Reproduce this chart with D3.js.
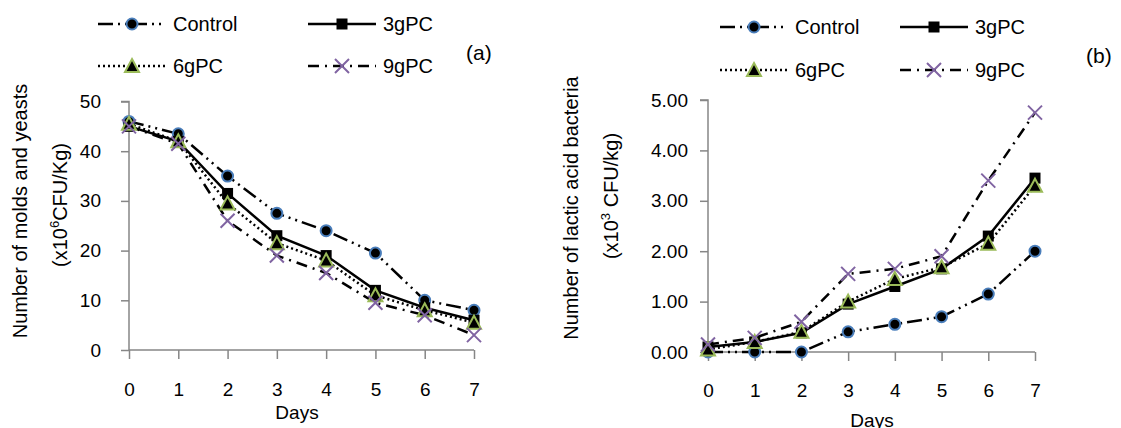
<!DOCTYPE html>
<html>
<head>
<meta charset="utf-8">
<script src="https://cdn.jsdelivr.net/npm/d3@7"></script>
<style>
  body { margin: 0; background: #fff; }
  svg text { font-family: "Liberation Sans", Arial, sans-serif; fill: #000; }
</style>
</head>
<body>
<svg id="chart" width="1121" height="428"></svg>
<script>
var days = [0, 1, 2, 3, 4, 5, 6, 7];
var seriesNames = ["Control", "3gPC", "6gPC", "9gPC"];

// (a) molds and yeasts, x10^6 CFU/Kg
var moldControl = [46, 43.5, 35, 27.5, 24, 19.5, 10, 8];
var mold3g = [45, 42, 31.5, 23, 19, 12, 8.5, 6];
var mold6g = [45.5, 42, 29.5, 21.5, 18, 11, 8, 5.5];
var mold9g = [45, 41.5, 26, 19, 15.5, 9.5, 7, 3];
var moldTicks = [0, 10, 20, 30, 40, 50];

// (b) lactic acid bacteria, x10^3 CFU/kg
var labControl = [0, 0, 0, 0.4, 0.55, 0.7, 1.15, 2.0];
var lab3g = [0.1, 0.2, 0.38, 0.95, 1.3, 1.65, 2.3, 3.45];
var lab6g = [0.05, 0.2, 0.4, 1.0, 1.45, 1.68, 2.15, 3.3];
var lab9g = [0.15, 0.28, 0.6, 1.55, 1.65, 1.9, 3.4, 4.75];
var labTicks = [0, 1, 2, 3, 4, 5];

var styles = {
  "Control": { dash: "15,5,2,5,2,5", marker: "circle" },
  "3gPC": { dash: null, marker: "square" },
  "6gPC": { dash: "2,3", marker: "triangle" },
  "9gPC": { dash: "11,6,2,6", marker: "cross" }
};

var svg = d3.select("#chart");
var axisColor = "#868686";

function drawMarker(g, type, cx, cy) {
  if (type == "circle") {
    g.append("circle").attr("cx", cx).attr("cy", cy).attr("r", 5.5)
      .attr("fill", "#000").attr("stroke", "#4a7ebb").attr("stroke-width", 2);
  } else if (type == "square") {
    g.append("rect").attr("x", cx - 5.5).attr("y", cy - 5.5)
      .attr("width", 11).attr("height", 11).attr("fill", "#000");
  } else if (type == "triangle") {
    g.append("path")
      .attr("d", "M" + cx + "," + (cy - 7) + "L" + (cx + 7) + "," + (cy + 6) + "L" + (cx - 7) + "," + (cy + 6) + "Z")
      .attr("fill", "#000").attr("stroke", "#9bbb59").attr("stroke-width", 2);
  } else {
    g.append("path")
      .attr("d", "M" + (cx - 7) + "," + (cy - 7) + "L" + (cx + 7) + "," + (cy + 7) + "M" + (cx + 7) + "," + (cy - 7) + "L" + (cx - 7) + "," + (cy + 7))
      .attr("stroke", "#8064a2").attr("stroke-width", 2).attr("fill", "none");
  }
}

function drawPanel(opt) {
  var x = d3.scaleLinear().domain([0, 7]).range([opt.x0, opt.x1]);
  var y = d3.scaleLinear().domain([0, opt.ymax]).range([opt.y0, opt.y1]);
  var g = svg.append("g");

  // y axis
  var yAxis = d3.axisLeft(y).tickValues(opt.ticks).tickSize(8).tickPadding(opt.yPad)
    .tickFormat(opt.fmt);
  var ya = g.append("g").attr("transform", "translate(" + opt.x0 + ",0)").call(yAxis);
  ya.select(".domain").attr("stroke", axisColor).attr("stroke-width", 1.5)
    .attr("d", "M-8," + y(opt.ymax) + "H0V" + y(0));
  ya.selectAll(".tick line").attr("stroke", axisColor).attr("stroke-width", 1.5);
  ya.selectAll("text").style("font-size", "19px").attr("fill", "#000");

  // x axis
  var xAxis = d3.axisBottom(x).tickValues(days).tickSize(9).tickPadding(opt.xPad)
    .tickFormat(d3.format("d"));
  var xa = g.append("g").attr("transform", "translate(0," + opt.y0 + ")").call(xAxis);
  xa.select(".domain").attr("stroke", axisColor).attr("stroke-width", 1.5)
    .attr("d", "M" + opt.x0 + ",0H" + opt.x1);
  xa.selectAll(".tick line").attr("stroke", axisColor).attr("stroke-width", 1.5);
  xa.selectAll("text").style("font-size", "19px").attr("fill", "#000");

  g.append("text").attr("x", opt.daysX).attr("y", opt.daysY)
    .attr("text-anchor", "middle").style("font-size", "19px").text("Days");

  // y titles
  g.append("text").attr("transform", "translate(" + opt.t1x + "," + opt.t1y + ") rotate(-90)")
    .attr("text-anchor", "middle").style("font-size", "20px").text(opt.title1);
  var t2 = g.append("text").attr("transform", "translate(" + opt.t2x + "," + opt.t2y + ") rotate(-90)")
    .attr("text-anchor", "middle").style("font-size", "20px");
  t2.append("tspan").text("(x10");
  t2.append("tspan").attr("dy", -8).style("font-size", "13px").text(opt.exp);
  t2.append("tspan").attr("dy", 8).text(opt.unit);

  // lines
  var line = d3.line().x(function(d, i) { return x(days[i]); }).y(function(d) { return y(d); });
  opt.series.forEach(function(vals, k) {
    var st = styles[seriesNames[k]];
    g.append("path").datum(vals).attr("d", line)
      .attr("fill", "none").attr("stroke", "#000").attr("stroke-width", 2.5)
      .attr("stroke-dasharray", st.dash);
  });
  opt.series.forEach(function(vals, k) {
    var st = styles[seriesNames[k]];
    vals.forEach(function(v, i) { drawMarker(g, st.marker, x(days[i]), y(v)); });
  });

  // legend
  seriesNames.forEach(function(name, k) {
    var st = styles[name];
    var lx = opt.legX[k % 2];
    var ly = opt.legY[Math.floor(k / 2)];
    g.append("line").attr("x1", lx).attr("x2", lx + 68).attr("y1", ly).attr("y2", ly)
      .attr("stroke", "#000").attr("stroke-width", 2.5).attr("stroke-dasharray", st.dash);
    drawMarker(g, st.marker, lx + 34, ly);
    g.append("text").attr("x", lx + 75).attr("y", ly + 7).style("font-size", "20px").text(name);
  });

  g.append("text").attr("x", opt.tagX).attr("y", opt.tagY).style("font-size", "21px").text(opt.tag);
}

drawPanel({
  x0: 129, x1: 474, y0: 350, y1: 101.5, ymax: 50, ticks: moldTicks, fmt: d3.format("d"),
  yPad: 20, xPad: 24,
  series: [moldControl, mold3g, mold6g, mold9g],
  daysX: 297, daysY: 419,
  title1: "Number of molds and yeasts", t1x: 27, t1y: 211,
  t2x: 67, t2y: 205, exp: "6", unit: "CFU/Kg)",
  legX: [98, 308], legY: [24, 66],
  tag: "(a)", tagX: 466, tagY: 60
});

drawPanel({
  x0: 708, x1: 1035, y0: 352, y1: 100, ymax: 5, ticks: labTicks, fmt: d3.format(".2f"),
  yPad: 12, xPad: 23,
  series: [labControl, lab3g, lab6g, lab9g],
  daysX: 872, daysY: 427,
  title1: "Number of lactic acid bacteria", t1x: 578, t1y: 208,
  t2x: 618, t2y: 196, exp: "3", unit: " CFU/kg)",
  legX: [720, 900], legY: [27, 70],
  tag: "(b)", tagX: 1086, tagY: 63
});
</script>
</body>
</html>
